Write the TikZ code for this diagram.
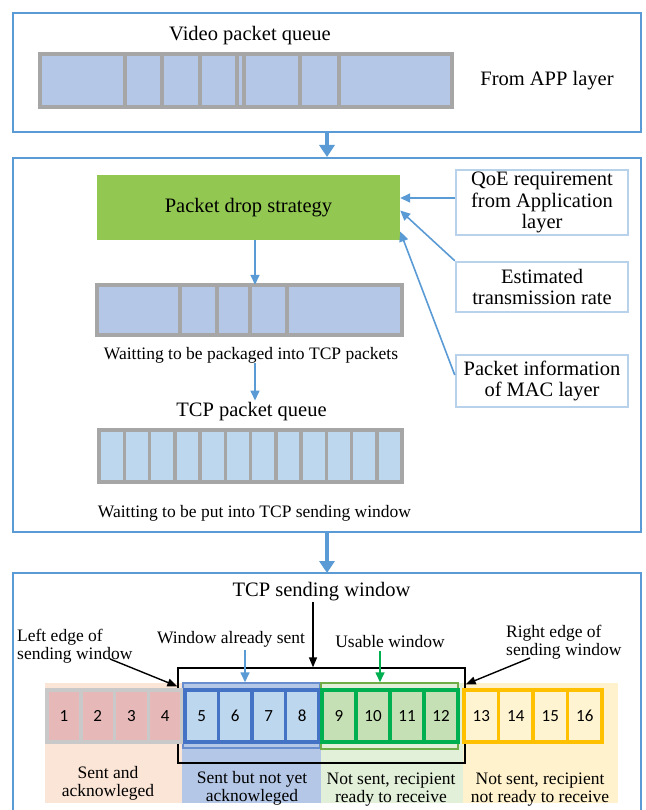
\documentclass[tikz,border=0pt]{standalone}
\usepackage{fontspec}
\setmainfont{Liberation Serif}
\newfontfamily\numfont{Carlito}
\usetikzlibrary{arrows.meta,calc}
\definecolor{boxblue}{RGB}{91,155,213}
\definecolor{qgrey}{RGB}{166,166,166}
\definecolor{qfill}{RGB}{180,199,231}
\definecolor{tcpfill}{RGB}{189,215,238}
\definecolor{dropgreen}{RGB}{146,200,82}
\definecolor{infoblue}{RGB}{184,210,236}
\definecolor{bandorange}{RGB}{251,229,214}
\definecolor{bandblue}{RGB}{180,199,231}
\definecolor{bandgreen}{RGB}{226,240,217}
\definecolor{bandyellow}{RGB}{255,242,204}
\definecolor{cellpink}{RGB}{230,185,184}
\definecolor{cellgrey}{RGB}{201,201,201}
\definecolor{cellbluefill}{RGB}{189,215,238}
\definecolor{darkblue}{RGB}{68,114,196}
\definecolor{cellgreenfill}{RGB}{197,224,180}
\definecolor{brightgreen}{RGB}{0,176,80}
\definecolor{cellyellowfill}{RGB}{255,244,210}
\definecolor{gold}{RGB}{255,192,0}
\definecolor{outlinegreen}{RGB}{112,173,71}
\newcommand{\fbig}{\fontsize{20.5}{21.5}\selectfont}
\newcommand{\fsmall}{\fontsize{17.5}{18}\selectfont}
\newcommand{\fnum}{\numfont\fontsize{17}{17}\selectfont}
\begin{document}
\begin{tikzpicture}[x=1pt,y=-1pt,
  bigbox/.style={draw=boxblue, line width=2pt, inner sep=0pt},
  bigarrow/.style={draw=boxblue, line width=4.5pt, -{Triangle[length=12pt,width=15pt]}},
  thinarrow/.style={draw=boxblue, line width=1.6pt, -{Triangle[length=10pt,width=9pt]}},
  blackarrow/.style={draw=black, line width=1.4pt, -{Triangle[length=10pt,width=8pt]}},
  greenarrow/.style={draw=brightgreen, line width=1.6pt, -{Triangle[length=10pt,width=9pt]}},
  infobox/.style={draw=infoblue, line width=2.5pt, fill=white, minimum width=172pt, inner sep=0pt, align=center, font=\fbig},
  qcell/.style={draw=qgrey, line width=3.5pt, fill=qfill},
  tcpcell/.style={draw=qgrey, line width=3.5pt, fill=tcpfill},
  txt/.style={inner sep=0pt, font=\fbig, align=center},
  stxt/.style={inner sep=0pt, font=\fsmall, align=center},
  cellA/.style={draw=cellgrey, line width=3.5pt, fill=cellpink, inner sep=0pt, font=\fnum, minimum height=52pt},
  cellB/.style={draw=darkblue, line width=3.5pt, fill=cellbluefill, inner sep=0pt, font=\fnum, minimum height=52pt},
  cellC/.style={draw=brightgreen, line width=3.5pt, fill=cellgreenfill, inner sep=0pt, font=\fnum, minimum height=52pt},
  cellD/.style={draw=gold, line width=3.5pt, fill=cellyellowfill, inner sep=0pt, font=\fnum, minimum height=52pt},
]
\useasboundingbox (0,0) rectangle (645,810);
\fill[white] (0,0) rectangle (645,810);

% ---------- top box ----------
\node[bigbox, minimum width=628pt, minimum height=119pt] (top) at (327,73) {};
\node[txt] (vpq) at (250,36) {Video packet queue};
\node[txt] (app) at (547,81) {From APP layer};
\node[inner sep=0pt, minimum width=412pt, minimum height=53pt] (q1) at (246,80.5) {};
\foreach \a/\b in {40/125,125/162,162/200,200/237,237/244,244/300,300/339,339/452}
  \draw[qcell] (\a,54) rectangle (\b,107);

% ---------- middle box ----------
\node[bigbox, minimum width=628pt, minimum height=374pt] (mid) at (327,345) {};
\draw[bigarrow] (top.south) -- (mid.north);

\node[fill=dropgreen, minimum width=303pt, minimum height=65pt, inner sep=0pt, font=\fbig] (drop) at (248.5,207.5) {Packet drop strategy};

\node[inner sep=0pt, minimum width=305pt, minimum height=50pt] (q2) at (249.5,310) {};
\foreach \a/\b in {97/180,180/217,217/250,250/287,287/402}
  \draw[qcell] (\a,285) rectangle (\b,335);

\node[stxt] (wait1) at (251,355) {Waitting to be packaged into TCP packets};
\node[txt] (tcpq) at (251.5,412) {TCP packet queue};
\node[inner sep=0pt, minimum width=303pt, minimum height=52pt] (q3) at (250.5,456) {};
\foreach \i in {0,...,11}
  \draw[tcpcell] ({99+\i*25.25},430) rectangle ({99+(\i+1)*25.25},482);
\node[stxt] (wait2) at (254.5,513) {Waitting to be put into TCP sending window};

\coordinate (a1) at (255,0);
\draw[thinarrow] (drop.south -| a1) -- (q2.north -| a1);
\draw[thinarrow] (wait1.south -| a1) -- ([yshift=2pt]tcpq.north -| a1);

\node[infobox, minimum height=65pt] (qoe) at (542,202.5) {QoE requirement\\from Application\\layer};
\node[infobox, minimum height=50pt] (est) at (542,287) {Estimated\\transmission rate};
\node[infobox, minimum height=52pt] (pkt) at (542,381) {Packet information\\of MAC layer};

\coordinate (a2) at (0,198);
\draw[thinarrow] (qoe.west |- a2) -- (drop.east |- a2);
\draw[thinarrow] (est.north west) -- ([yshift=-3pt]drop.east);
\draw[thinarrow] ([yshift=6pt]pkt.west) -- ([yshift=-24pt]drop.east);

% ---------- bottom box ----------
\draw[boxblue, line width=2pt] (13,815) -- (13,573) -- (641,573) -- (641,815);
\coordinate (bottop) at (327,573);
\draw[bigarrow] (mid.south) -- (bottop);

\fill[bandorange] (45,683) rectangle (182,803);
\fill[bandblue] (182,683) rectangle (321,803);
\fill[bandgreen] (321,683) rectangle (463,803);
\fill[bandyellow] (463,683) rectangle (618,803);

\node[draw=black, line width=1.3pt, minimum width=287pt, minimum height=95pt, inner sep=0pt] (win) at (321.5,715.5) {};
\node[draw=darkblue!80, line width=1.5pt, minimum width=137pt, minimum height=65pt, inner sep=0pt] (sentwin) at (251.5,715.5) {};
\node[draw=outlinegreen, line width=1.5pt, minimum width=137pt, minimum height=66pt, inner sep=0pt] (usewin) at (389.5,716) {};

\foreach \i in {1,...,4}
  \node[cellA, minimum width=33.75pt] (c\i) at ({47+(\i-1)*33.75+16.875},716) {\i};
\foreach \i in {5,...,8}
  \node[cellB, minimum width=33.5pt] (c\i) at ({185+(\i-5)*33.5+16.75},716) {\i};
\foreach \i in {9,...,12}
  \node[cellC, minimum width=34pt] (c\i) at ({322+(\i-9)*34+17},716) {\i};
\foreach \i in {13,...,16}
  \node[cellD, minimum width=34.5pt] (c\i) at ({464+(\i-13)*34.5+17.25},716) {\i};

\node[txt] (tsw) at (321.5,592) {TCP sending window};
\node[stxt, align=left, anchor=west] (leftlbl) at (17,646.5) {Left edge of\\sending window};
\node[stxt, align=left, anchor=west] (rightlbl) at (506,642) {Right edge of\\sending window};
\node[stxt] (sentlbl) at (231,639) {Window already sent};
\node[stxt] (uselbl) at (390,642) {Usable window};

\coordinate (a3) at (313,0);
\draw[blackarrow] (tsw.south -| a3) -- (win.north -| a3);
\coordinate (lstart) at (110,659);
\draw[blackarrow] (lstart) -- ([yshift=-19pt]win.north west);
\coordinate (rstart) at (530,658);
\draw[blackarrow] (rstart) -- ([yshift=-17pt]win.north east);
\coordinate (a4) at (245,0);
\draw[thinarrow] ([yshift=-3pt]sentlbl.south -| a4) -- (sentwin.north -| a4);
\coordinate (a5) at (380,0);
\draw[greenarrow] ([yshift=-3pt]uselbl.south -| a5) -- (usewin.north -| a5);

\node[stxt] (l1) at (108,783) {Sent and\\acknowleged};
\node[stxt] (l2) at (252,788) {Sent but not yet\\acknowleged};
\node[stxt] (l3) at (391,790) {Not sent, recipient\\ready to receive};
\node[stxt] (l4) at (540,790) {Not sent, recipient\\not ready to receive};
\end{tikzpicture}
\end{document}
